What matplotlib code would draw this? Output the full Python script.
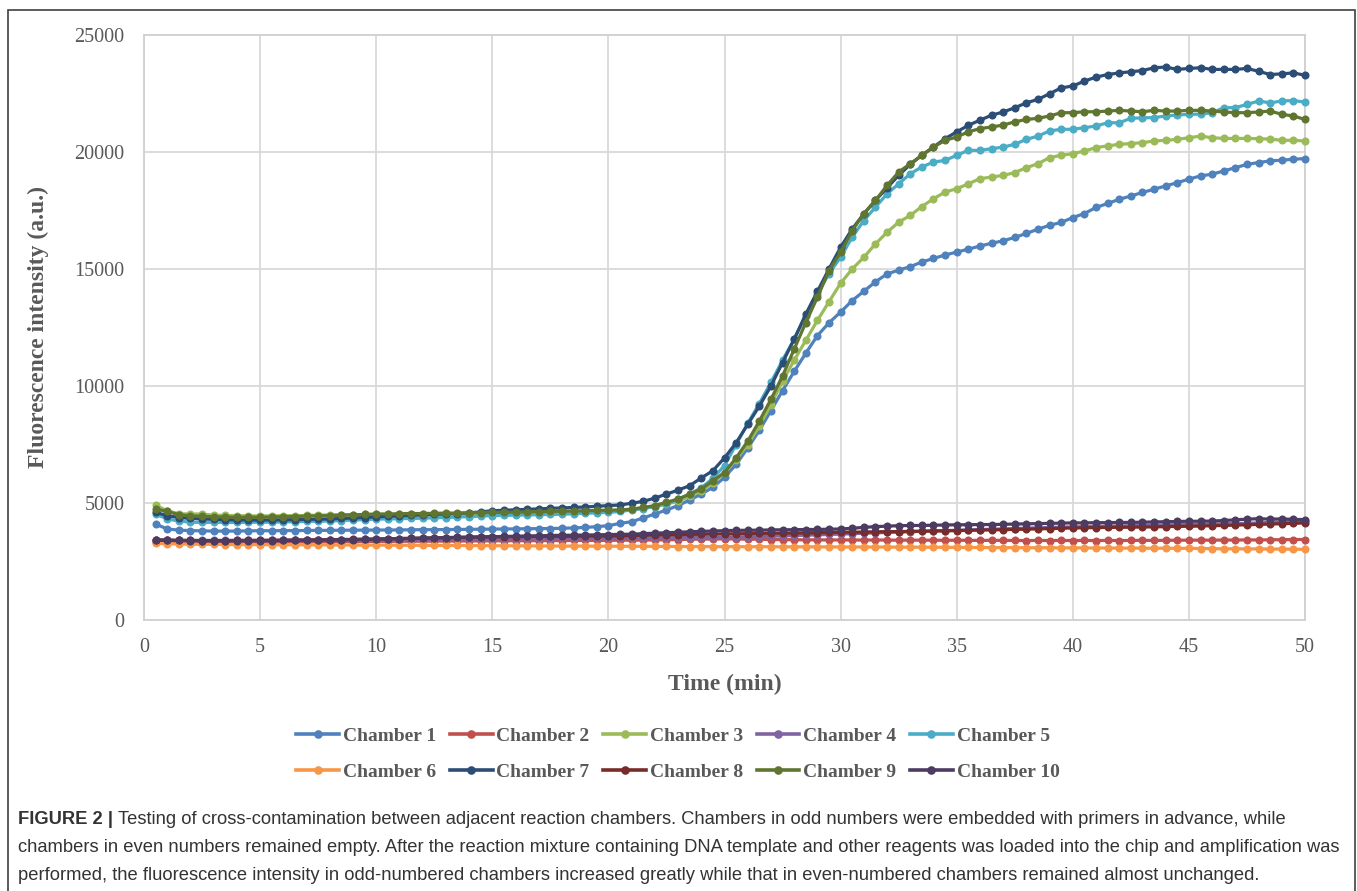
import numpy as np
import matplotlib
matplotlib.use("Agg")
import matplotlib.pyplot as plt
from matplotlib.patches import Rectangle
from matplotlib.lines import Line2D

# ---------------- data ----------------
time_min = np.arange(0.5, 50.01, 0.5)

chamber_labels = ["Chamber 1", "Chamber 2", "Chamber 3", "Chamber 4", "Chamber 5",
                  "Chamber 6", "Chamber 7", "Chamber 8", "Chamber 9", "Chamber 10"]

chamber1 = [4100, 3890, 3840, 3820, 3810, 3800, 3800, 3800, 3810, 3815,
            3815, 3820, 3820, 3825, 3830, 3830, 3835, 3840, 3840, 3845,
            3845, 3850, 3855, 3860, 3860, 3865, 3870, 3875, 3880, 3885,
            3890, 3895, 3900, 3905, 3910, 3920, 3935, 3955, 3990, 4030,
            4130, 4200, 4360, 4530, 4700, 4890, 5130, 5380, 5670, 6100,
            6650, 7350, 8100, 8950, 9800, 10620, 11400, 12150, 12700, 13160,
            13650, 14050, 14450, 14790, 14950, 15100, 15300, 15450, 15600, 15720,
            15850, 15980, 16100, 16205, 16350, 16520, 16700, 16870, 16990, 17200,
            17370, 17630, 17800, 17980, 18120, 18270, 18410, 18550, 18690, 18840,
            18980, 19050, 19190, 19330, 19470, 19550, 19620, 19650, 19690, 19720]

chamber2 = [3330, 3330, 3320, 3320, 3325, 3320, 3325, 3330, 3330, 3330,
            3335, 3335, 3340, 3340, 3345, 3345, 3350, 3350, 3355, 3360,
            3360, 3365, 3365, 3370, 3370, 3375, 3375, 3380, 3380, 3385,
            3385, 3390, 3390, 3390, 3395, 3395, 3400, 3400, 3400, 3405,
            3410, 3410, 3415, 3420, 3430, 3440, 3450, 3455, 3460, 3465,
            3460, 3455, 3450, 3440, 3435, 3430, 3425, 3425, 3420, 3420,
            3420, 3415, 3420, 3415, 3410, 3415, 3410, 3410, 3405, 3410,
            3405, 3400, 3405, 3400, 3400, 3395, 3400, 3395, 3400, 3395,
            3400, 3395, 3400, 3395, 3400, 3405, 3400, 3405, 3410, 3410,
            3415, 3410, 3420, 3415, 3425, 3420, 3430, 3430, 3440, 3440]

chamber3 = [4900, 4670, 4540, 4530, 4530, 4480, 4470, 4460, 4450, 4450,
            4450, 4460, 4460, 4470, 4480, 4490, 4500, 4500, 4510, 4510,
            4510, 4520, 4520, 4530, 4530, 4540, 4540, 4550, 4550, 4560,
            4560, 4570, 4570, 4580, 4590, 4600, 4610, 4620, 4640, 4660,
            4690, 4730, 4780, 4850, 4950, 5080, 5280, 5520, 5850, 6300,
            6850, 7500, 8300, 9200, 10200, 11100, 11950, 12800, 13600, 14390,
            15000, 15500, 16070, 16570, 17000, 17290, 17670, 18000, 18290, 18430,
            18640, 18860, 18930, 19000, 19120, 19330, 19500, 19760, 19860, 19930,
            20040, 20190, 20260, 20330, 20360, 20400, 20470, 20500, 20540, 20610,
            20680, 20610, 20580, 20580, 20580, 20570, 20550, 20500, 20500, 20470]

chamber4 = [3420, 3410, 3400, 3400, 3400, 3400, 3400, 3400, 3405, 3405,
            3410, 3410, 3415, 3415, 3420, 3420, 3425, 3425, 3430, 3430,
            3435, 3440, 3440, 3445, 3450, 3450, 3455, 3460, 3460, 3465,
            3470, 3470, 3475, 3480, 3480, 3485, 3490, 3490, 3495, 3500,
            3500, 3505, 3510, 3510, 3515, 3520, 3525, 3530, 3530, 3540,
            3545, 3555, 3565, 3580, 3595, 3610, 3625, 3640, 3655, 3670,
            3690, 3705, 3720, 3740, 3755, 3770, 3790, 3805, 3820, 3835,
            3850, 3865, 3880, 3895, 3910, 3925, 3940, 3955, 3965, 3980,
            3990, 4000, 4010, 4020, 4030, 4040, 4050, 4060, 4070, 4080,
            4090, 4100, 4110, 4120, 4130, 4150, 4170, 4190, 4210, 4220]

chamber5 = [4530, 4320, 4230, 4180, 4170, 4170, 4170, 4170, 4175, 4175,
            4180, 4190, 4200, 4210, 4220, 4230, 4250, 4270, 4290, 4310,
            4320, 4330, 4340, 4350, 4370, 4380, 4400, 4420, 4440, 4460,
            4470, 4480, 4490, 4500, 4510, 4520, 4540, 4560, 4580, 4600,
            4640, 4700, 4760, 4850, 4970, 5150, 5380, 5650, 6050, 6600,
            7500, 8400, 9250, 10150, 11100, 12000, 13000, 13950, 14800, 15500,
            16360, 17070, 17640, 18210, 18640, 19070, 19360, 19570, 19640, 19860,
            20070, 20070, 20140, 20210, 20330, 20540, 20680, 20900, 20970, 20970,
            21040, 21110, 21250, 21250, 21440, 21460, 21470, 21540, 21580, 21610,
            21620, 21680, 21890, 21900, 22030, 22180, 22100, 22180, 22200, 22130]

chamber6 = [3280, 3260, 3250, 3240, 3235, 3230, 3225, 3225, 3220, 3220,
            3220, 3215, 3215, 3210, 3210, 3210, 3205, 3205, 3200, 3200,
            3200, 3195, 3195, 3190, 3190, 3185, 3185, 3180, 3180, 3175,
            3175, 3170, 3170, 3165, 3165, 3160, 3160, 3160, 3155, 3155,
            3150, 3150, 3150, 3145, 3145, 3140, 3140, 3140, 3135, 3135,
            3135, 3130, 3135, 3130, 3130, 3125, 3130, 3125, 3125, 3120,
            3120, 3120, 3115, 3120, 3110, 3115, 3110, 3110, 3105, 3105,
            3100, 3100, 3095, 3095, 3090, 3090, 3085, 3090, 3080, 3085,
            3080, 3075, 3080, 3070, 3075, 3070, 3065, 3070, 3060, 3065,
            3055, 3050, 3040, 3045, 3035, 3040, 3030, 3030, 3025, 3020]

chamber7 = [4600, 4460, 4380, 4340, 4320, 4300, 4290, 4280, 4275, 4270,
            4275, 4280, 4290, 4300, 4310, 4320, 4340, 4360, 4380, 4410,
            4430, 4450, 4470, 4490, 4510, 4530, 4550, 4580, 4620, 4670,
            4690, 4710, 4730, 4750, 4770, 4790, 4810, 4830, 4860, 4890,
            4915, 4990, 5070, 5210, 5380, 5550, 5740, 6070, 6380, 6930,
            7570, 8360, 9140, 10000, 11000, 12000, 13070, 14040, 15000, 15930,
            16710, 17360, 17930, 18470, 19000, 19470, 19860, 20210, 20570, 20860,
            21140, 21360, 21570, 21710, 21890, 22100, 22250, 22490, 22740, 22820,
            23030, 23200, 23310, 23380, 23430, 23480, 23600, 23630, 23530, 23570,
            23600, 23530, 23530, 23530, 23570, 23450, 23310, 23340, 23380, 23280]

chamber8 = [3420, 3410, 3400, 3400, 3395, 3395, 3395, 3400, 3400, 3400,
            3405, 3410, 3415, 3420, 3425, 3430, 3440, 3445, 3450, 3460,
            3470, 3480, 3490, 3500, 3510, 3520, 3530, 3540, 3550, 3560,
            3565, 3565, 3570, 3575, 3575, 3580, 3580, 3585, 3590, 3590,
            3600, 3610, 3620, 3630, 3640, 3650, 3655, 3665, 3670, 3680,
            3685, 3690, 3700, 3705, 3710, 3720, 3725, 3735, 3740, 3750,
            3755, 3760, 3770, 3775, 3780, 3790, 3795, 3805, 3810, 3820,
            3830, 3840, 3850, 3860, 3870, 3880, 3895, 3905, 3920, 3935,
            3940, 3950, 3955, 3960, 3965, 3975, 3980, 3990, 4000, 4005,
            4015, 4030, 4040, 4055, 4070, 4085, 4100, 4115, 4130, 4150]

chamber9 = [4740, 4640, 4500, 4450, 4430, 4410, 4400, 4390, 4390, 4390,
            4400, 4410, 4420, 4440, 4450, 4460, 4480, 4490, 4510, 4530,
            4530, 4540, 4550, 4550, 4560, 4570, 4570, 4580, 4590, 4600,
            4600, 4610, 4620, 4630, 4640, 4650, 4660, 4670, 4680, 4700,
            4700, 4740, 4810, 4890, 5030, 5170, 5380, 5600, 5950, 6300,
            6930, 7640, 8500, 9430, 10430, 11570, 12710, 13790, 14930, 15710,
            16640, 17360, 17930, 18570, 19140, 19500, 19860, 20210, 20500, 20640,
            20860, 21000, 21070, 21150, 21290, 21390, 21440, 21540, 21680, 21680,
            21720, 21720, 21750, 21780, 21750, 21720, 21780, 21750, 21750, 21780,
            21780, 21750, 21710, 21680, 21680, 21710, 21750, 21610, 21540, 21390]

chamber10 = [3420, 3410, 3400, 3395, 3390, 3390, 3390, 3390, 3390, 3390,
             3395, 3400, 3405, 3410, 3420, 3425, 3435, 3440, 3450, 3460,
             3470, 3480, 3490, 3500, 3510, 3520, 3530, 3540, 3550, 3560,
             3570, 3580, 3590, 3600, 3610, 3620, 3625, 3630, 3640, 3650,
             3660, 3670, 3690, 3710, 3730, 3750, 3770, 3790, 3800, 3820,
             3830, 3835, 3840, 3850, 3855, 3860, 3865, 3870, 3880, 3890,
             3920, 3960, 3990, 4010, 4030, 4040, 4040, 4050, 4060, 4070,
             4070, 4080, 4080, 4090, 4100, 4110, 4120, 4130, 4140, 4150,
             4150, 4160, 4160, 4170, 4170, 4180, 4190, 4200, 4210, 4220,
             4220, 4230, 4250, 4280, 4310, 4330, 4310, 4320, 4300, 4290]

series = [chamber1, chamber2, chamber3, chamber4, chamber5,
          chamber6, chamber7, chamber8, chamber9, chamber10]

colors = ["#4F81BD", "#C0504D", "#9BBB59", "#8064A2", "#4BACC6",
          "#F79646", "#2C4D75", "#772C2A", "#5F7530", "#4D3B62"]

x_ticks = [0, 5, 10, 15, 20, 25, 30, 35, 40, 45, 50]
y_ticks = [0, 5000, 10000, 15000, 20000, 25000]

caption_bold = "FIGURE 2 |"
caption_lines = [
    "Testing of cross-contamination between adjacent reaction chambers. Chambers in odd numbers were embedded with primers in advance, while",
    "chambers in even numbers remained empty. After the reaction mixture containing DNA template and other reagents was loaded into the chip and amplification was",
    "performed, the fluorescence intensity in odd-numbered chambers increased greatly while that in even-numbered chambers remained almost unchanged.",
]

# ---------------- figure ----------------
W, H = 1357, 891
fig = plt.figure(figsize=(W / 100, H / 100), dpi=100)
fig.patch.set_facecolor("white")

def fx(px):
    return px / W

def fy(py):
    return 1 - py / H

ax = fig.add_axes([fx(144), fy(620), fx(1305) - fx(144), fy(35) - fy(620)])

serif = ["Liberation Serif", "DejaVu Serif"]
txt_col = "#595959"

for vals, lab, col in zip(series, chamber_labels, colors):
    ax.plot(time_min, vals, color=col, lw=2.3, marker="o", ms=5.8,
            markeredgewidth=0, label=lab, zorder=3, clip_on=False)

ax.set_xlim(0, 50)
ax.set_ylim(0, 25000)
ax.set_xticks(x_ticks)
ax.set_yticks(y_ticks)
ax.set_xticklabels([str(v) for v in x_ticks], family=serif, fontsize=14.5, color=txt_col)
ax.set_yticklabels([str(v) for v in y_ticks], family=serif, fontsize=14.5, color=txt_col)
ax.tick_params(axis="both", length=0)
ax.tick_params(axis="x", pad=13)
ax.tick_params(axis="y", pad=14)
ax.grid(True, color="#D9D9D9", lw=1.3, zorder=0)
ax.set_axisbelow(True)
for s in ax.spines.values():
    s.set_color("#D0D0D0")
    s.set_linewidth(1.3)

ax.set_xlabel("Time (min)", family=serif, fontsize=17, fontweight="bold",
              color=txt_col, labelpad=12)
ax.set_ylabel("Fluorescence intensity (a.u.)", family=serif, fontsize=17,
              fontweight="bold", color=txt_col, labelpad=18)

# legend filled row by row (matplotlib fills columns first)
ncol = 5
order = [r * ncol + c for c in range(ncol) for r in range(2)]
handles = [Line2D([0], [0], color=colors[i], lw=2.6, marker="o", ms=6.2,
                  markeredgewidth=0) for i in order]
labels = [chamber_labels[i] for i in order]
leg = fig.legend(handles, labels, loc="center", ncol=ncol,
                 bbox_to_anchor=(fx(678), fy(754)), frameon=False,
                 prop={"family": serif, "size": 14, "weight": "bold"},
                 handlelength=2.2, handletextpad=0.2, columnspacing=0.7,
                 labelspacing=0.95)
for t in leg.get_texts():
    t.set_color(txt_col)

# outer frame
fig.patches.append(Rectangle((fx(8), -0.05), fx(1355) - fx(8), fy(10) + 0.05,
                             transform=fig.transFigure, fill=False,
                             edgecolor="#404040", lw=1.2, zorder=10))

# caption
cap_col = "#333333"
sans = ["Liberation Sans", "DejaVu Sans"]
cap_size = 13.25
ys = [820, 848, 876]
tb = fig.text(fx(18), fy(ys[0]), caption_bold, family=sans, fontsize=cap_size,
              fontweight="bold", color=cap_col, va="center", ha="left")
fig.canvas.draw()
r = fig.canvas.get_renderer()
bb = tb.get_window_extent(renderer=r)
fig.text(bb.x1 / W + fx(5), fy(ys[0]), caption_lines[0], family=sans,
         fontsize=cap_size, color=cap_col, va="center", ha="left")
fig.text(fx(18), fy(ys[1]), caption_lines[1], family=sans, fontsize=cap_size,
         color=cap_col, va="center", ha="left")
fig.text(fx(18), fy(ys[2]), caption_lines[2], family=sans, fontsize=cap_size,
         color=cap_col, va="center", ha="left")

fig.savefig("out.png", dpi=100, facecolor="white")
